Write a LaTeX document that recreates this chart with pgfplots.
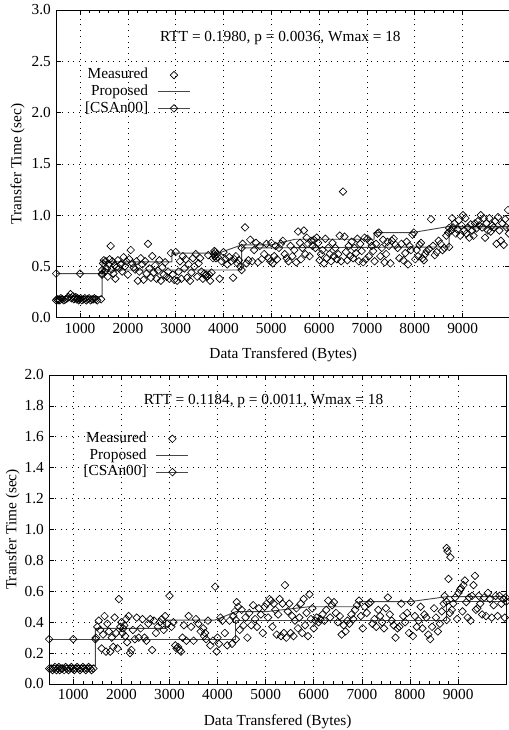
\documentclass[border=0pt]{standalone}
\usepackage{fontspec}
\setmainfont{Liberation Serif}
\usepackage{pgfplots}
\pgfplotsset{compat=1.18}
\definecolor{lgray}{RGB}{70,70,70}
\pgfplotsset{
  gp/.style={
    scale only axis,
    xmin=500, xmax=10000,
    xtick={1000,2000,...,9000},
    scaled x ticks=false,
    minor x tick num=4,
    /pgf/number format/assume math mode=true,
    xticklabel style={/pgf/number format/1000 sep={}},
    yticklabel style={/pgf/number format/.cd, fixed, fixed zerofill, precision=1},
    grid=major,
    grid style={black, line width=0.5pt, dash pattern=on 0.7pt off 3.6pt},
    major tick length=3.8pt,
    minor tick length=2pt,
    tick style={black, line width=0.5pt},
    axis line style={line width=0.6pt},
    xlabel={Data Transfered (Bytes)},
    ylabel={Transfer Time (sec)},
    legend plot pos=right,
    legend cell align=right,
    legend image code/.code={\path (0pt,0pt) (30pt,0pt);\draw[mark repeat=2,mark phase=2,#1] plot coordinates {(6pt,0pt)(18pt,0pt)(30pt,0pt)};},
    legend style={draw=none, fill=none, anchor=north east,
      nodes={inner sep=1pt, text height=8pt, text depth=2.5pt}},
  },
  meas/.style={only marks, mark=square, mark size=2pt, black,
    mark options={rotate=45, line width=0.5pt}},
  prop/.style={lgray, line width=0.7pt, mark=none},
  csan/.style={lgray, line width=0.7pt, mark=square, mark size=2pt,
    mark options={rotate=45, black, line width=0.5pt}},
}
\begin{document}
\fontsize{11.5pt}{13.8pt}\selectfont
\begin{tikzpicture}
\useasboundingbox (0,0) rectangle (381.75pt,547.5pt);
% ---------------- top ----------------
\begin{axis}[gp,
  at={(42.1pt,309.2pt)}, anchor=south west,
  width=340.7pt, height=230.8pt,
  ymin=0, ymax=3, ytick={0,0.5,...,3.0},
  xlabel style={at={(axis description cs:0.5,-0.121)}, anchor=center},
  ylabel style={at={(axis description cs:-0.085,0.5)}, anchor=center},
  legend style={at={(axis description cs:0.305,0.825)}},
]
\addplot[meas] coordinates {
(500,0.17)(520,0.18)(540,0.17)(560,0.18)(580,0.17)(600,0.19)(630,0.18)(660,0.17)(700,0.18)(730,0.19)(760,0.20)(800,0.23)(820,0.19)(850,0.21)(870,0.18)(890,0.19)(910,0.20)(930,0.18)(950,0.19)(970,0.17)(990,0.18)(1010,0.19)(1040,0.17)(1070,0.18)(1100,0.19)(1130,0.17)(1160,0.18)(1190,0.19)(1220,0.17)(1250,0.18)(1280,0.18)(1300,0.19)(1330,0.18)(1360,0.17)(1440,0.18)
(1460,0.42)(1480,0.53)(1500,0.56)(1520,0.45)(1540,0.55)(1560,0.48)(1580,0.40)(1600,0.52)(1620,0.57)(1640,0.70)(1660,0.47)(1680,0.55)(1700,0.43)(1720,0.51)(1740,0.38)(1760,0.49)(1790,0.56)(1820,0.48)(1850,0.52)(1880,0.45)(1910,0.59)(1940,0.50)(1970,0.55)(2000,0.42)(2030,0.57)(2060,0.66)(2090,0.53)(2120,0.49)(2150,0.47)(2180,0.55)(2210,0.36)(2240,0.45)(2270,0.58)(2300,0.52)(2330,0.37)(2360,0.55)(2390,0.43)(2420,0.72)(2450,0.48)(2480,0.39)(2510,0.60)(2540,0.44)(2570,0.51)(2600,0.38)(2630,0.46)(2660,0.56)(2690,0.36)(2720,0.49)(2750,0.42)(2780,0.54)(2810,0.40)(2840,0.45)(2870,0.38)(2900,0.63)
(2940,0.42)(2970,0.37)(3000,0.64)(3030,0.36)(3060,0.45)(3090,0.55)(3120,0.38)(3150,0.60)(3180,0.48)(3210,0.57)(3240,0.39)(3270,0.52)(3300,0.36)(3330,0.44)(3360,0.58)(3390,0.50)(3420,0.62)(3450,0.40)(3480,0.53)(3510,0.58)(3540,0.45)(3570,0.38)(3600,0.43)(3620,0.41)(3640,0.42)(3660,0.40)(3680,0.61)(3700,0.42)(3720,0.36)(3750,0.44)(3780,0.58)(3800,0.62)(3810,0.65)(3820,0.60)(3830,0.64)(3840,0.58)(3860,0.62)(3880,0.59)(3920,0.38)(3960,0.55)(4000,0.64)(4040,0.57)(4080,0.52)(4120,0.59)(4160,0.55)(4200,0.39)(4230,0.57)(4260,0.60)(4290,0.53)(4320,0.56)(4350,0.50)
(4400,0.72)(4450,0.88)(4480,0.53)(4520,0.56)(4560,0.76)(4600,0.55)(4640,0.66)(4680,0.73)(4720,0.54)(4760,0.70)(4800,0.57)(4850,0.62)(4900,0.72)(4950,0.58)(4980,0.55)(5000,0.73)(5030,0.53)(5060,0.60)(5090,0.70)(5120,0.57)(5160,0.68)(5200,0.72)(5240,0.75)(5280,0.62)(5320,0.58)(5360,0.55)(5400,0.70)(5440,0.60)(5480,0.66)(5520,0.54)(5560,0.84)(5600,0.73)(5620,0.57)(5650,0.68)(5680,0.85)(5710,0.62)(5740,0.78)(5770,0.72)(5800,0.60)(5830,0.75)(5860,0.70)(5890,0.76)(5920,0.68)(5950,0.78)(5980,0.73)(6010,0.56)(6040,0.62)(6070,0.66)(6100,0.53)(6130,0.77)(6160,0.58)(6190,0.68)(6220,0.62)(6250,0.55)(6280,0.73)(6310,0.60)(6340,0.68)(6370,0.57)(6400,0.62)(6430,0.80)(6460,0.55)(6500,1.23)(6530,0.79)(6560,0.64)(6590,0.56)(6620,0.70)(6650,0.60)(6680,0.74)(6710,0.58)(6740,0.68)(6770,0.63)(6800,0.77)(6830,0.55)(6860,0.72)(6890,0.65)(6920,0.54)(6950,0.78)(6980,0.57)(7010,0.77)(7040,0.60)(7070,0.74)(7100,0.70)(7130,0.65)(7160,0.55)(7190,0.72)(7220,0.82)(7250,0.83)(7280,0.60)(7310,0.68)(7340,0.76)(7370,0.54)(7400,0.62)(7430,0.74)(7460,0.70)(7490,0.53)(7520,0.75)(7560,0.77)(7600,0.71)(7640,0.68)(7680,0.58)(7720,0.72)(7760,0.56)(7800,0.63)(7830,0.74)(7860,0.52)(7890,0.70)(7920,0.66)(7950,0.81)(7980,0.83)(8010,0.57)(8040,0.66)(8070,0.60)(8100,0.71)(8130,0.73)(8160,0.58)(8190,0.56)(8220,0.62)(8250,0.65)(8300,0.67)(8340,0.96)(8380,0.70)(8420,0.61)(8460,0.64)(8500,0.75)(8540,0.72)(8580,0.66)(8620,0.68)(8660,0.80)(8700,0.83)
(8760,0.85)(8780,0.97)(8800,0.88)(8830,0.92)(8860,0.82)(8890,0.86)(8920,0.95)(8950,0.80)(8980,0.90)(9010,1.00)(9040,0.85)(9060,0.97)(9080,0.82)(9110,0.88)(9140,0.78)(9170,0.91)(9200,0.85)(9230,0.80)(9260,0.92)(9290,0.87)(9320,0.94)(9350,0.90)(9380,1.00)(9410,0.88)(9440,0.97)(9470,0.78)(9500,0.92)(9530,0.85)(9560,0.97)(9590,0.84)(9620,0.90)(9650,0.88)(9680,0.94)(9710,0.72)(9740,0.98)(9770,0.85)(9800,0.75)(9830,0.92)(9860,0.71)(9890,0.96)(9920,0.88)(9950,1.05)(9970,0.82)
};
\addlegendentry{Measured}
\addplot[prop] coordinates {
(500,0.205)(1460,0.205)(1460,0.545)(2920,0.545)(2920,0.63)(3900,0.63)(4380,0.71)(5000,0.71)(5500,0.765)(7150,0.765)(7150,0.83)(7950,0.83)(8720,0.89)(10000,0.89)
};
\addlegendentry{Proposed}
\addplot[csan] coordinates {
(500,0.43)(1000,0.43)(1460,0.43)(1460,0.465)(4380,0.465)(4380,0.68)(8720,0.69)(8720,0.875)(10000,0.875)
};
\addlegendentry{[CSAn00]}
\node at (axis cs:5190,2.73) {RTT = 0.1980, p = 0.0036, Wmax = 18};
\end{axis}
% ---------------- bottom ----------------
\begin{axis}[gp,
  at={(36.9pt,34.5pt)}, anchor=south west,
  width=342.75pt, height=231.75pt,
  ymin=0, ymax=2, ytick={0,0.2,...,2.0},
  xlabel style={at={(axis description cs:0.5,-0.122)}, anchor=center},
  ylabel style={at={(axis description cs:-0.080,0.5)}, anchor=center},
  legend style={at={(axis description cs:0.315,0.83)}},
]
\addplot[meas] coordinates {
(500,0.10)(540,0.10)(570,0.09)(600,0.10)(620,0.11)(650,0.09)(680,0.10)(700,0.11)(720,0.09)(750,0.10)(780,0.10)(810,0.09)(840,0.11)(870,0.10)(900,0.09)(930,0.10)(960,0.11)(990,0.10)(1020,0.09)(1050,0.10)(1080,0.11)(1110,0.10)(1140,0.09)(1170,0.10)(1200,0.11)(1230,0.10)(1260,0.09)(1290,0.10)(1320,0.11)(1350,0.10)(1380,0.09)(1420,0.10)
(1470,0.30)(1500,0.37)(1530,0.41)(1560,0.35)(1590,0.23)(1620,0.32)(1650,0.44)(1680,0.21)(1710,0.39)(1740,0.34)(1770,0.21)(1800,0.30)(1830,0.24)(1860,0.43)(1890,0.33)(1920,0.23)(1950,0.55)(1980,0.37)(2000,0.40)(2020,0.33)(2040,0.36)(2060,0.38)(2080,0.31)(2100,0.42)(2120,0.27)(2150,0.44)(2180,0.20)(2210,0.22)(2240,0.35)(2280,0.29)(2320,0.43)(2360,0.30)(2400,0.36)(2440,0.42)(2480,0.30)(2520,0.28)(2560,0.39)(2600,0.42)(2640,0.22)(2680,0.41)(2720,0.33)(2760,0.37)(2800,0.40)(2840,0.42)(2880,0.35)(2910,0.44)
(2950,0.39)(3000,0.57)(3040,0.37)(3080,0.40)(3120,0.25)(3150,0.23)(3180,0.24)(3210,0.22)(3240,0.21)(3270,0.30)(3300,0.38)(3350,0.28)(3400,0.44)(3450,0.37)(3500,0.28)(3550,0.42)(3600,0.39)(3650,0.34)(3700,0.36)(3720,0.31)(3740,0.33)(3760,0.29)(3800,0.41)(3850,0.25)(3900,0.28)(3950,0.63)(3980,0.21)(4000,0.30)(4030,0.26)(4060,0.43)(4100,0.41)(4150,0.33)(4200,0.25)(4250,0.41)(4300,0.26)(4330,0.44)(4360,0.47)
(4400,0.53)(4430,0.50)(4460,0.35)(4500,0.48)(4540,0.38)(4580,0.43)(4620,0.30)(4660,0.46)(4700,0.38)(4740,0.51)(4780,0.42)(4820,0.37)(4860,0.49)(4900,0.45)(4940,0.33)(4980,0.50)(5020,0.52)(5050,0.43)(5080,0.55)(5110,0.54)(5140,0.37)(5170,0.52)(5200,0.48)(5230,0.32)(5260,0.45)(5290,0.55)(5320,0.31)(5350,0.52)(5380,0.33)(5400,0.64)(5430,0.30)(5460,0.47)(5490,0.52)(5520,0.33)(5550,0.44)(5580,0.31)(5610,0.41)(5640,0.49)(5670,0.36)(5700,0.43)(5730,0.52)(5760,0.33)(5790,0.55)(5820,0.38)(5850,0.46)(5880,0.31)(5910,0.58)(5940,0.42)(5970,0.49)(6000,0.36)(6030,0.41)(6060,0.43)(6100,0.40)(6140,0.42)(6180,0.45)(6220,0.41)(6260,0.48)(6300,0.54)(6340,0.43)(6380,0.51)(6420,0.53)(6460,0.46)(6500,0.40)(6540,0.44)(6580,0.32)(6620,0.38)(6660,0.34)(6700,0.41)(6740,0.39)(6780,0.45)(6820,0.42)(6860,0.48)(6900,0.51)(6940,0.54)(6980,0.44)(7020,0.36)(7060,0.50)(7100,0.46)(7140,0.52)(7180,0.53)(7220,0.39)(7260,0.42)(7300,0.37)(7340,0.48)(7380,0.44)(7420,0.40)(7460,0.36)(7500,0.49)(7540,0.56)(7580,0.45)(7620,0.41)(7660,0.38)(7700,0.30)(7740,0.36)(7780,0.37)(7820,0.52)(7860,0.44)(7900,0.40)(7940,0.46)(7980,0.33)(8020,0.53)(8060,0.31)(8100,0.44)(8140,0.37)(8180,0.41)(8220,0.50)(8260,0.36)(8300,0.45)(8340,0.43)(8380,0.32)(8420,0.29)(8460,0.37)(8500,0.49)(8540,0.43)(8580,0.34)(8620,0.39)(8660,0.47)(8700,0.52)(8720,0.57)
(8760,0.88)(8780,0.86)(8840,0.82)(8800,0.68)(8830,0.46)(8870,0.48)(8900,0.52)(8940,0.56)(8980,0.42)(9010,0.59)(9040,0.61)(9060,0.62)(9090,0.47)(9110,0.64)(9140,0.67)(9170,0.53)(9200,0.43)(9230,0.56)(9260,0.41)(9290,0.57)(9320,0.64)(9350,0.70)(9370,0.48)(9400,0.49)(9430,0.57)(9460,0.52)(9500,0.45)(9540,0.56)(9580,0.44)(9620,0.59)(9660,0.55)(9700,0.43)(9740,0.51)(9780,0.57)(9820,0.44)(9860,0.57)(9900,0.52)(9940,0.55)(9970,0.43)(9990,0.56)
};
\addlegendentry{Measured}
\addplot[prop] coordinates {
(500,0.12)(1460,0.12)(1460,0.36)(2920,0.36)(2920,0.414)(3950,0.414)(4380,0.468)(5000,0.468)(5900,0.50)(6950,0.50)(6950,0.533)(8000,0.533)(8760,0.565)(10000,0.565)
};
\addlegendentry{Proposed}
\addplot[csan] coordinates {
(500,0.29)(1000,0.29)(1460,0.29)(4380,0.29)(4380,0.414)(8760,0.414)(8760,0.533)(10000,0.533)
};
\addlegendentry{[CSAn00]}
\node at (axis cs:4955,1.83) {RTT = 0.1184, p = 0.0011, Wmax = 18};
\end{axis}
\end{tikzpicture}
\end{document}
